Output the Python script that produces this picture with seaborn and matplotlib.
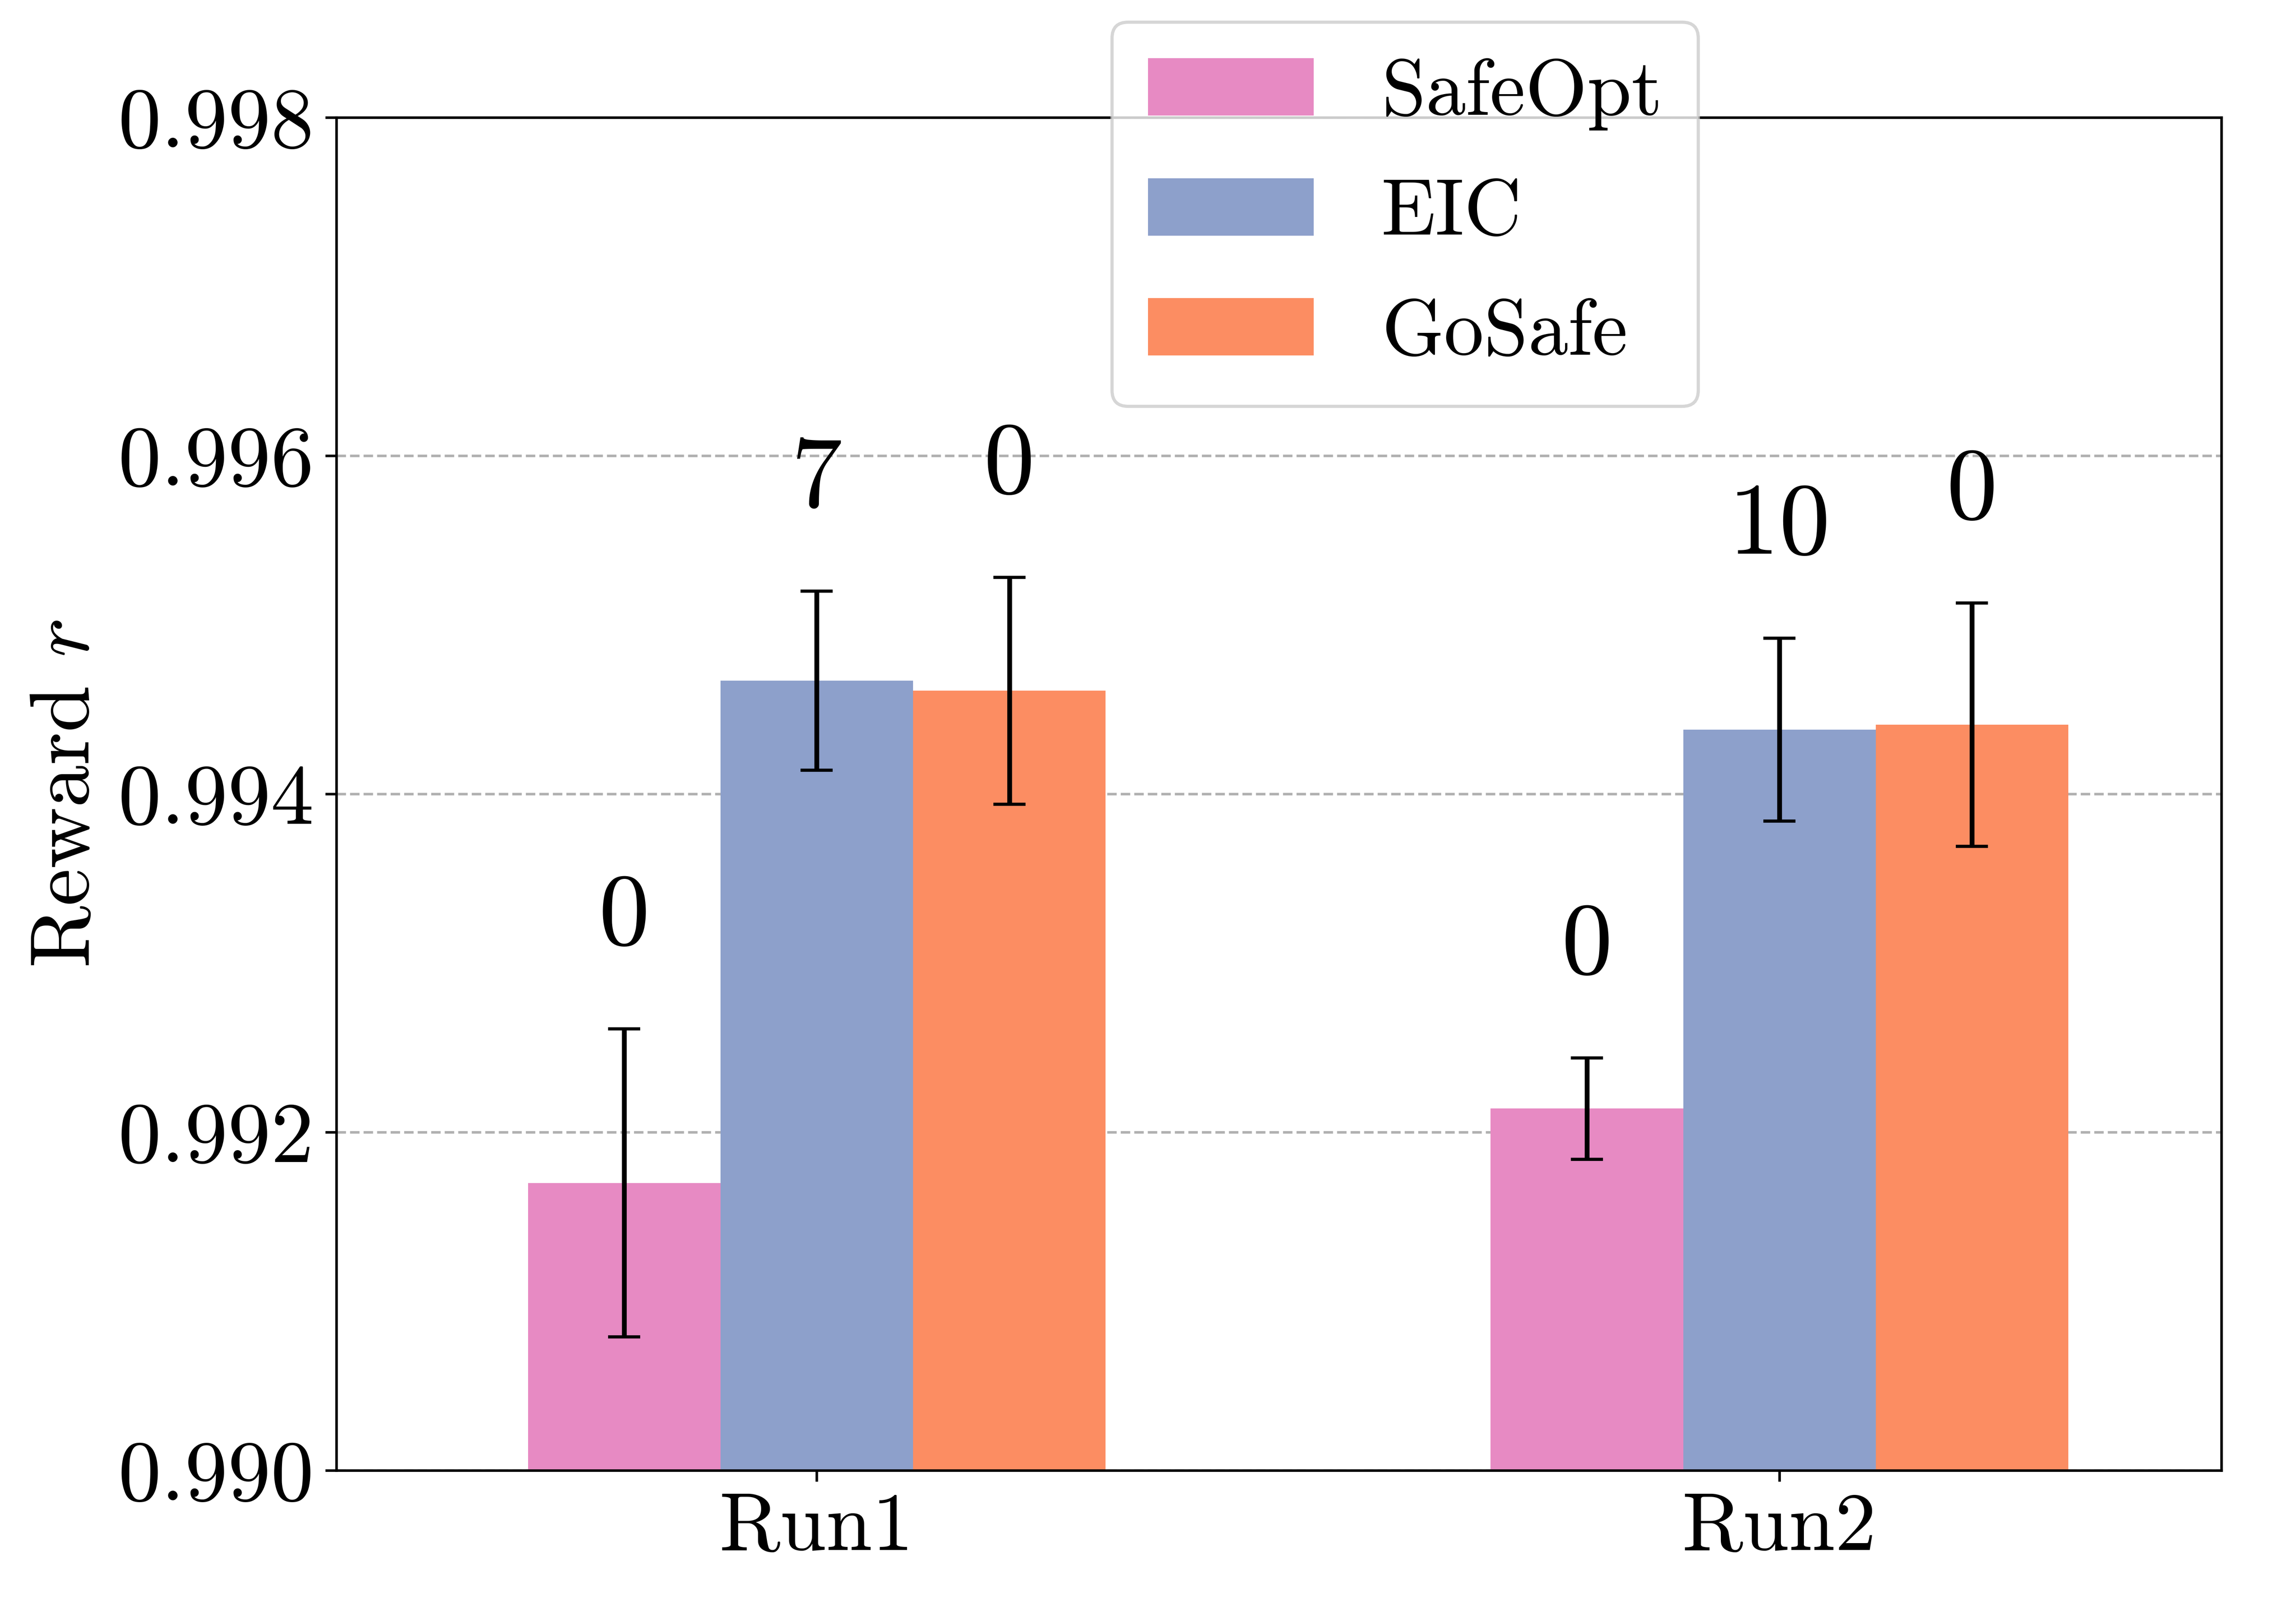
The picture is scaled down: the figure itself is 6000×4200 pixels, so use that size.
import matplotlib
matplotlib.use("Agg")
import matplotlib.pyplot as plt
import seaborn as sns
import pandas as pd

# ---------------- data ----------------
runs = ["Run1", "Run2"]
methods = ["SafeOpt", "EIC", "GoSafe"]

safeopt_mean = [0.99170, 0.99214]
safeopt_err = [0.00091, 0.00030]
eic_mean = [0.99467, 0.99438]
eic_err = [0.00053, 0.00054]
gosafe_mean = [0.99461, 0.99441]
gosafe_err = [0.00067, 0.00072]

safeopt_count = [0, 0]
eic_count = [7, 10]
gosafe_count = [0, 0]

colors = ["#e78ac3", "#8da0cb", "#fc8d62"]
ytick_values = [0.990, 0.992, 0.994, 0.996, 0.998]
ytick_labels = ["0.990", "0.992", "0.994", "0.996", "0.998"]
ylabel = "Reward $r$"

means = [safeopt_mean, eic_mean, gosafe_mean]
errs = [safeopt_err, eic_err, gosafe_err]
counts = [safeopt_count, eic_count, gosafe_count]

rows = []
for m, mv, ev, cv in zip(methods, means, errs, counts):
    for r, a, e, c in zip(runs, mv, ev, cv):
        rows.append({"run": r, "method": m, "mean": a, "err": e, "count": c})
df = pd.DataFrame(rows)

# ---------------- style ----------------
plt.rcParams["font.family"] = ["cmr10", "DejaVu Serif"]
plt.rcParams["mathtext.fontset"] = "cm"
plt.rcParams["axes.unicode_minus"] = False
plt.rcParams["axes.formatter.use_mathtext"] = True

fig = plt.figure(figsize=(10, 7), dpi=600)
ax = fig.add_axes([0.1465, 0.085, 0.9675 - 0.1465, 0.9269 - 0.085])

sns.barplot(data=df, x="run", y="mean", hue="method", order=runs,
            hue_order=methods, palette=colors, saturation=1, width=0.6,
            errorbar=None, linewidth=0, ax=ax)

for i, m in enumerate(methods):
    cont = ax.containers[i]
    xs = [b.get_x() + b.get_width() / 2 for b in cont]
    sub = df[df["method"] == m].set_index("run").loc[runs]
    ax.errorbar(xs, sub["mean"].values, yerr=sub["err"].values, fmt="none",
                ecolor="black", elinewidth=1.5, capsize=5, capthick=1, zorder=3)
    for x, mu, e, c in zip(xs, sub["mean"].values, sub["err"].values, sub["count"].values):
        ax.text(x, mu + e + 0.0005, str(c), ha="center", va="baseline",
                fontsize=32, zorder=4)

ax.set_ylim(ytick_values[0], ytick_values[-1])
ax.set_yticks(ytick_values)
ax.set_yticklabels(ytick_labels)
ax.set_xlim(-0.499, 1.459)
ax.tick_params(axis="y", labelsize=27)
ax.tick_params(axis="x", labelsize=26)
ax.set_xlabel("")
ax.set_ylabel(ylabel, fontsize=26.5)

ax.yaxis.grid(True, linestyle="--", color="#b0b0b0", linewidth=0.8)
ax.xaxis.grid(False)
ax.set_axisbelow(True)
for s in ax.spines.values():
    s.set_color("black")
    s.set_linewidth(0.8)

handles, labels = ax.get_legend_handles_labels()
ax.legend(handles, labels, loc="upper center",
          bbox_to_anchor=(0.612, 0.9862), bbox_transform=fig.transFigure,
          borderaxespad=0, fontsize=25, frameon=True,
          handlelength=2.08, handleheight=0.73, handletextpad=0.85,
          labelspacing=0.6, borderpad=0.45)

fig.savefig("out.png", dpi=600)
